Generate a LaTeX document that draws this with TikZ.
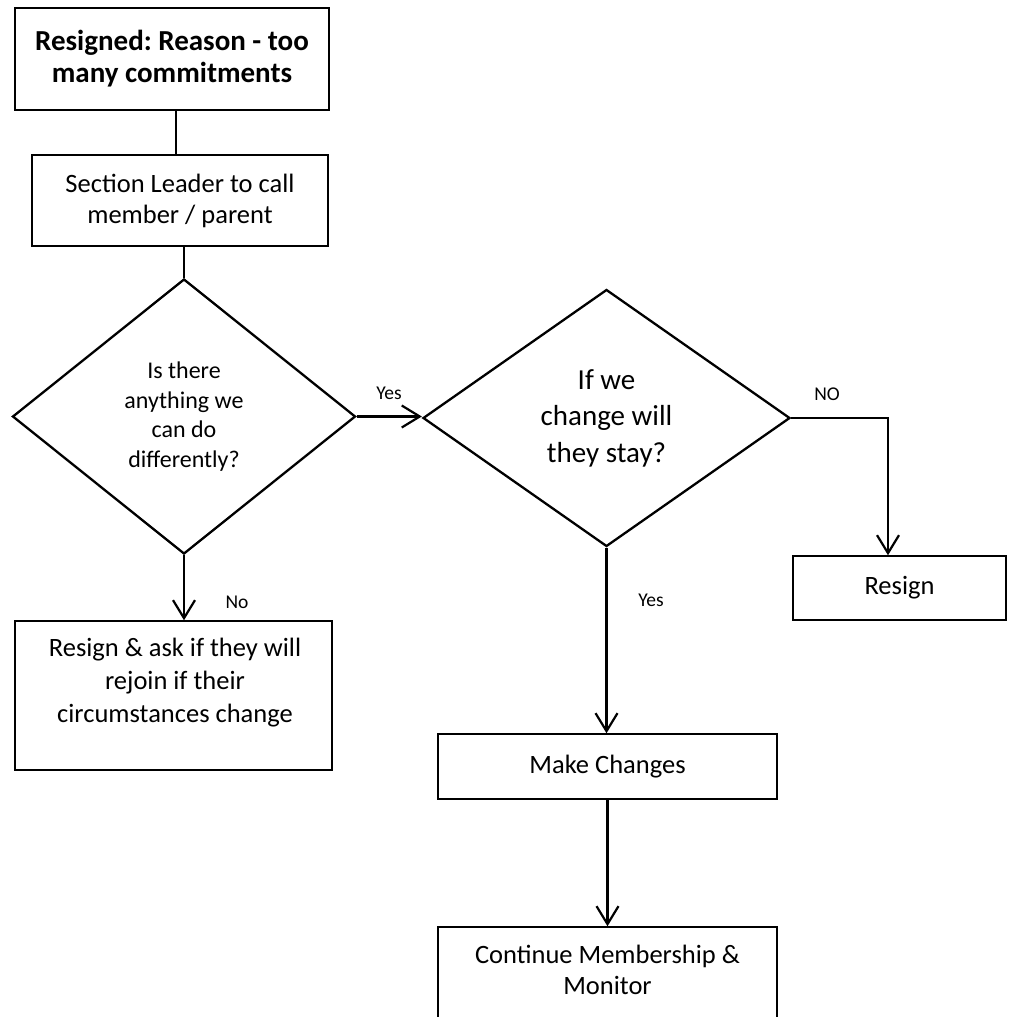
\documentclass[tikz,border=0pt]{standalone}
\usepackage{fontspec}
\setmainfont{Carlito}
\usetikzlibrary{shapes.geometric,arrows.meta}

\begin{document}
\frenchspacing
\begin{tikzpicture}[x=1pt,y=-1pt,
  box/.style={draw, line width=1.5pt, inner sep=0pt, align=center},
  dia/.style={draw, diamond, line width=2.3pt, inner sep=0pt, align=center},
  link/.style={line width=2.2pt},
  flow/.style={line width=2.2pt, -{Straight Barb[length=18pt,width=22pt,line width=2.2pt]}},
  lbl/.style={font=\fontsize{19.5}{23}\selectfont, inner sep=0pt},
  txt/.style={font=\fontsize{26.5}{31}\selectfont, align=center},
]
\useasboundingbox (0,0) rectangle (1009,1017);
\fill[white] (0,0) rectangle (1009,1017);

% process boxes and decisions
\node[box, minimum width=314pt, minimum height=102pt,
      font=\bfseries\fontsize{29}{32}\selectfont] (top) at (172,59)
      {Resigned: Reason - too\\many commitments};
\node[box, txt, minimum width=296pt, minimum height=91pt] (leader) at (180,200.5)
      {Section Leader to call\\member / parent};
\node[dia, minimum width=343pt, minimum height=275pt,
      font=\fontsize{24}{29.7}\selectfont] (q1) at (184,416.5)
      {Is there\\anything we\\can do\\differently?};
\node[dia, minimum width=367pt, minimum height=257pt,
      font=\fontsize{29}{36.5}\selectfont] (q2) at (606.5,418)
      {If we\\change will\\they stay?};
\node[box, txt, minimum width=213pt, minimum height=64pt] (resign) at (899.5,588) {Resign};
\node[box, minimum width=317pt, minimum height=149pt] (rejoin) at (173.5,695.5) {};
\node[txt, font=\fontsize{26.5}{33}\selectfont] (rejointext) at (175,683)
      {Resign \& ask if they will\\rejoin if their\\circumstances change};
\node[box, txt, minimum width=339pt, minimum height=65pt] (make) at (607.5,766.5) {Make Changes};
\node[box, minimum width=339pt, minimum height=120pt] (cont) at (607.5,987) {};
\node[txt] (conttext) at (607.5,970) {Continue Membership \&\\Monitor};

% connectors
\draw[link] ([xshift=4pt]top.south) -- ([xshift=-4pt]leader.north);
\draw[link] ([xshift=4pt]leader.south) -- (q1.north);
\draw[flow, line width=3pt] (q1.east) -- (q1.east -| q2.west);
\coordinate (bend) at ([xshift=-11.5pt]resign.north |- q2.east);
\draw[line width=1.3pt] (q2.east) -- ([xshift=0.8pt]bend);
\draw[flow, line width=2pt] (bend) -- ([xshift=-11.5pt]resign.north);
\draw[flow] (q1.south) -- (q1.south |- rejoin.north);
\draw[flow] (q2.south) -- (q2.south |- make.north);
\draw[flow] (make.south) -- (cont.north);

% branch labels
\node[lbl] (yes1) at (389,393) {Yes};
\node[lbl] (no1) at (237,602) {No};
\node[lbl] (no2) at (827,394) {NO};
\node[lbl] (yes2) at (651,600) {Yes};
\end{tikzpicture}
\end{document}
